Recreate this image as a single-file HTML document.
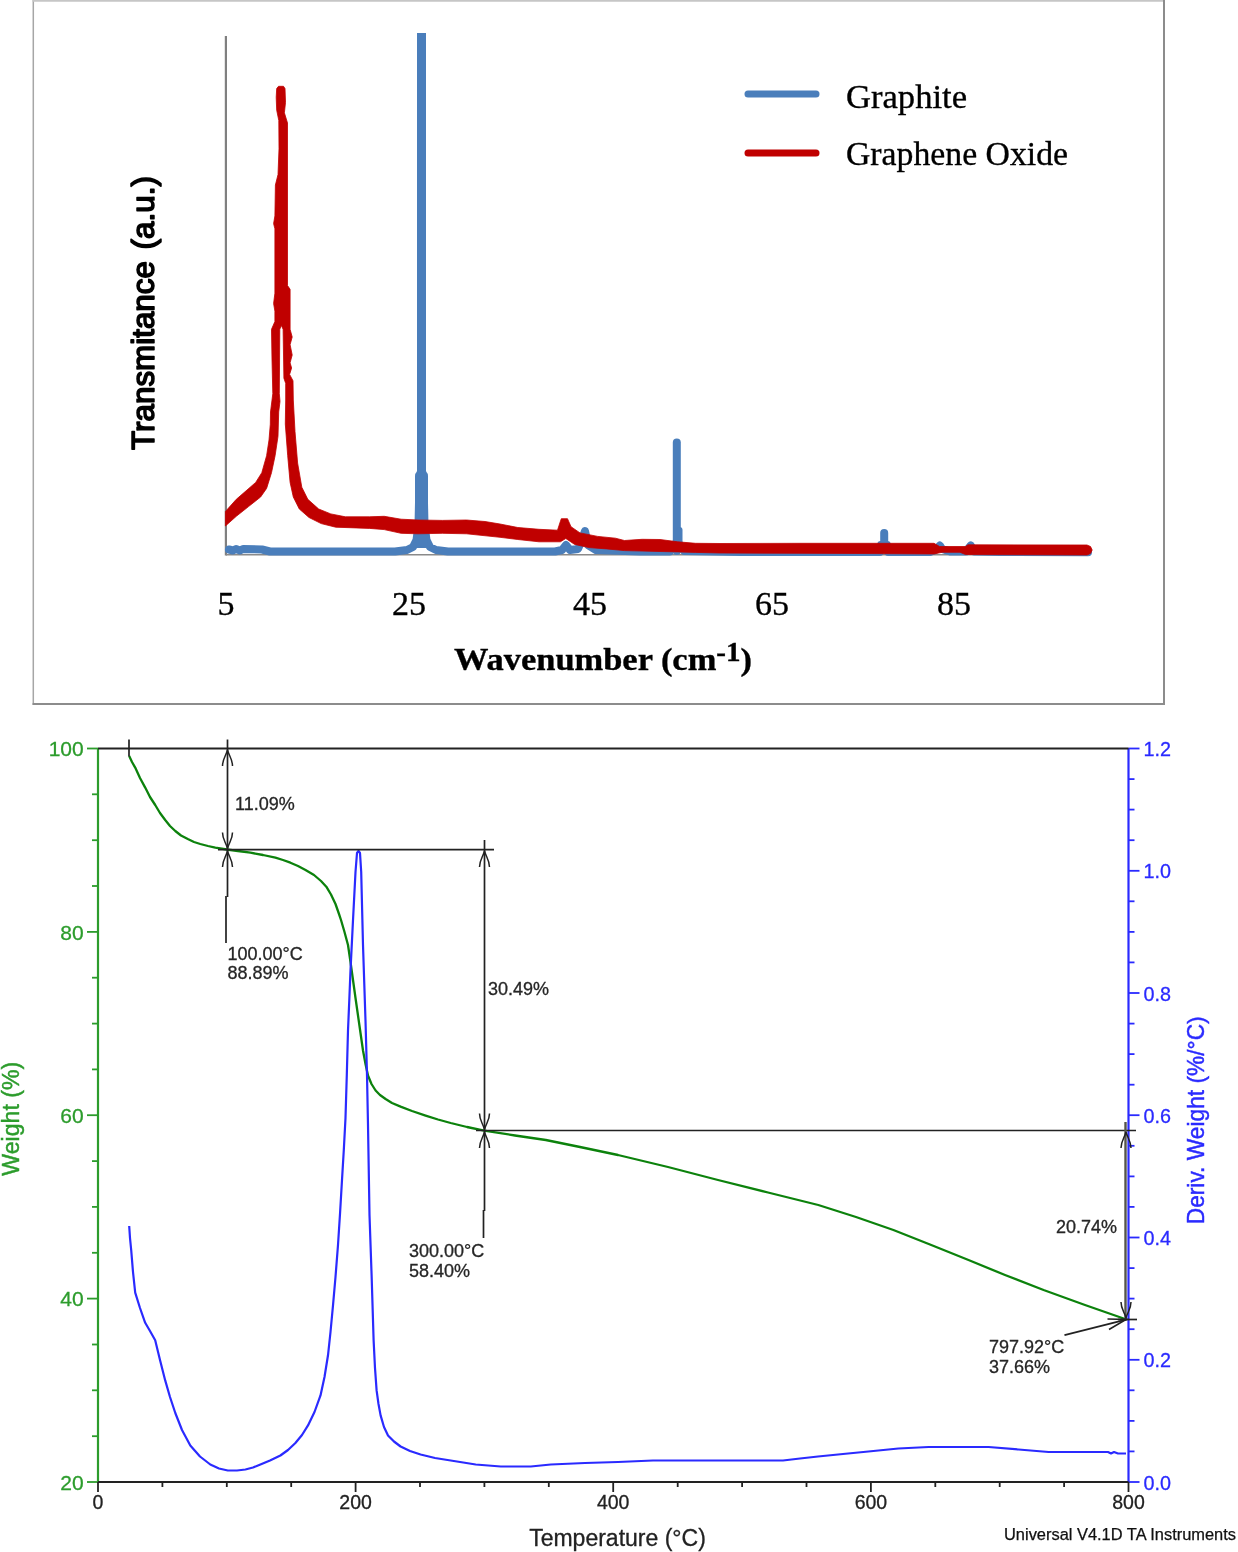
<!DOCTYPE html>
<html lang="en"><head><meta charset="utf-8"><title>XRD and TGA of graphene oxide</title>
<style>
html,body{margin:0;padding:0;background:#fff;}
body{width:1238px;height:1552px;overflow:hidden;}
svg{display:block;}
</style></head>
<body>
<svg width="1238" height="1552" viewBox="0 0 1238 1552">
<rect width="1238" height="1552" fill="#fff"/>
<g id="top">
<line x1="33.3" y1="0" x2="33.3" y2="704.9" stroke="#a6a6a6" stroke-width="1.5"/>
<line x1="32.6" y1="0.9" x2="1165" y2="0.9" stroke="#c6c6c6" stroke-width="1.8"/>
<line x1="1164" y1="0" x2="1164" y2="704.9" stroke="#8c8c8c" stroke-width="2"/>
<line x1="32.6" y1="703.9" x2="1165" y2="703.9" stroke="#8c8c8c" stroke-width="2"/>
<line x1="225.9" y1="36" x2="225.9" y2="555.6" stroke="#808080" stroke-width="2.2"/>
<line x1="226" y1="554.8" x2="1090" y2="554.8" stroke="#8a8a8a" stroke-width="1.6"/>
<g fill="none" stroke="#4a7ebb" stroke-linejoin="round" stroke-linecap="round">
  <polyline stroke-width="8" points="229,549.5 233,550.5 236,549 240,550.5 243,549 262,549.5 270,551.5 395,551.5 407,550 413,547 416.5,540 418.5,525 419.5,480"/>
  <polyline stroke-width="8" points="423.5,480 424.5,525 426.5,540 430,547 436,550 448,551.5 555,551.5 562,550 566,545 570,550 578,549 582,540 585,531 588,545 596,550 640,551.5 670,551.5 673,545"/>
  <polyline stroke-width="8" points="680,545 684,551 740,552 880,552 881,545"/>
  <polyline stroke-width="8" points="887,545 888,552 930,552 937,549 939.8,545.5 942,549 950,551.5 966,551.5 970.7,545.5 974,551.5 1000,552 1088,552.3"/>
  <line x1="421.5" y1="33" x2="421.5" y2="548" stroke-width="9" stroke-linecap="butt"/>
  <line x1="421.5" y1="476" x2="421.5" y2="540" stroke-width="13"/>
  <line x1="676.8" y1="442.5" x2="676.8" y2="551" stroke-width="8"/>
  <line x1="679.5" y1="530" x2="679.5" y2="545" stroke-width="6"/>
  <line x1="884.2" y1="533" x2="884.2" y2="548" stroke-width="8"/>
</g>
<polygon points="225.4,511.5 236.3,499.3 247.0,490.0 255.7,482.4 261.8,472.7 266.6,455.7 269.0,440.0 270.3,424.2 270.5,412.0 272.8,393.7 272.0,360.0 271.5,329.3 274.9,321.5 274.9,311.2 273.6,303.5 274.9,293.2 274.9,228.8 273.6,223.6 274.9,215.9 275.4,185.0 278.0,174.6 279.0,148.9 278.8,120.5 276.7,110.2 276.2,97.3 276.7,88.5 278.5,86.3 283.5,86.3 285.0,88.5 285.5,102.5 284.4,112.8 287.5,123.0 287.5,285.5 290.1,289.3 290.1,329.3 292.2,337.0 290.1,344.7 292.2,355.0 290.1,362.8 291.6,368.0 289.6,374.4 293.0,380.8 293.3,400.0 295.0,431.5 297.6,463.0 301.8,487.2 307.8,499.3 318.7,509.0 330.8,513.9 345.4,516.8 369.6,516.8 384.2,516.3 401.1,519.2 418.0,520.0 442.3,520.4 466.5,520.0 485.0,521.5 500.0,524.0 517.8,527.5 539.0,529.3 557.5,530.2 559.5,524.0 561.3,518.7 567.5,518.7 571.0,526.7 580.0,532.9 597.7,536.4 615.5,538.2 624.4,540.5 642.2,539.3 660.0,539.5 677.7,541.8 695.5,543.3 720.0,543.5 800.0,543.3 934.0,543.3 939.6,546.5 965.4,546.5 968.0,544.8 1087.0,545.0 1090.5,546.5 1092.2,550.0 1090.5,553.5 1087.0,555.0 965.4,554.5 960.0,552.3 942.0,552.3 934.0,554.0 860.0,553.5 800.0,553.3 720.0,553.0 695.5,552.4 677.7,551.9 660.0,551.5 624.4,550.6 606.6,548.9 588.9,547.6 574.6,544.4 565.8,538.5 560.4,541.8 539.0,541.8 517.8,539.5 500.0,537.3 466.5,533.8 442.3,533.3 418.0,533.8 401.1,533.3 384.2,529.6 369.6,528.4 335.7,527.2 321.2,523.6 309.0,517.5 299.3,509.0 293.3,497.0 290.1,482.4 287.7,455.7 285.3,424.0 285.7,400.0 285.7,383.4 283.9,378.2 283.1,329.3 281.3,325.4 279.8,329.3 279.3,393.7 280.0,401.4 278.7,412.0 278.0,436.3 275.1,455.7 271.5,472.7 266.6,488.4 260.6,497.0 248.5,506.6 236.3,516.3 225.4,526.0" fill="#c00000" stroke="#c00000" stroke-width="0.8" stroke-linejoin="round"/>
<g font-family="'Liberation Serif', serif" fill="#000" stroke="#000" stroke-width="0.35">
  <text x="226" y="615" font-size="34" text-anchor="middle">5</text>
  <text x="409" y="615" font-size="34" text-anchor="middle">25</text>
  <text x="590" y="615" font-size="34" text-anchor="middle">45</text>
  <text x="772" y="615" font-size="34" text-anchor="middle">65</text>
  <text x="954" y="615" font-size="34" text-anchor="middle">85</text>
  <text x="454" y="670" font-size="32" font-weight="bold" textLength="298" lengthAdjust="spacingAndGlyphs">Wavenumber (cm<tspan dy="-9" font-size="27">-1</tspan><tspan dy="9">)</tspan></text>
  <text x="846" y="107.5" font-size="34" textLength="121" lengthAdjust="spacingAndGlyphs">Graphite</text>
  <text x="846" y="164.5" font-size="34" textLength="222" lengthAdjust="spacingAndGlyphs">Graphene Oxide</text>
</g>
<line x1="748" y1="94" x2="816" y2="94" stroke="#4a7ebb" stroke-width="7" stroke-linecap="round"/>
<line x1="748" y1="153" x2="816" y2="153" stroke="#c00000" stroke-width="7" stroke-linecap="round"/>
<g font-family="'Liberation Sans', sans-serif" font-size="30.5" fill="#000" stroke="#000" stroke-width="1.5" stroke-linejoin="round">
<text transform="translate(154.3,450) rotate(-90)" textLength="189" lengthAdjust="spacingAndGlyphs">Transmitance</text>
<text transform="translate(154.3,249.5) rotate(-90)" textLength="73.5" lengthAdjust="spacingAndGlyphs">(a.u.)</text>
</g>
</g>
<g id="bottom"><line x1="98.0" y1="748.0" x2="98.0" y2="1482.5" stroke="#2c9c2c" stroke-width="2.2"/>
<line x1="1128.5" y1="748.0" x2="1128.5" y2="1482.5" stroke="#2a2aff" stroke-width="2.2"/>
<line x1="87.0" y1="1482.0" x2="98.0" y2="1482.0" stroke="#2c9c2c" stroke-width="1.8"/>
<line x1="92.0" y1="1436.2" x2="98.0" y2="1436.2" stroke="#2c9c2c" stroke-width="1.8"/>
<line x1="92.0" y1="1390.3" x2="98.0" y2="1390.3" stroke="#2c9c2c" stroke-width="1.8"/>
<line x1="92.0" y1="1344.5" x2="98.0" y2="1344.5" stroke="#2c9c2c" stroke-width="1.8"/>
<line x1="87.0" y1="1298.6" x2="98.0" y2="1298.6" stroke="#2c9c2c" stroke-width="1.8"/>
<line x1="92.0" y1="1252.8" x2="98.0" y2="1252.8" stroke="#2c9c2c" stroke-width="1.8"/>
<line x1="92.0" y1="1206.9" x2="98.0" y2="1206.9" stroke="#2c9c2c" stroke-width="1.8"/>
<line x1="92.0" y1="1161.1" x2="98.0" y2="1161.1" stroke="#2c9c2c" stroke-width="1.8"/>
<line x1="87.0" y1="1115.2" x2="98.0" y2="1115.2" stroke="#2c9c2c" stroke-width="1.8"/>
<line x1="92.0" y1="1069.4" x2="98.0" y2="1069.4" stroke="#2c9c2c" stroke-width="1.8"/>
<line x1="92.0" y1="1023.6" x2="98.0" y2="1023.6" stroke="#2c9c2c" stroke-width="1.8"/>
<line x1="92.0" y1="977.7" x2="98.0" y2="977.7" stroke="#2c9c2c" stroke-width="1.8"/>
<line x1="87.0" y1="931.9" x2="98.0" y2="931.9" stroke="#2c9c2c" stroke-width="1.8"/>
<line x1="92.0" y1="886.0" x2="98.0" y2="886.0" stroke="#2c9c2c" stroke-width="1.8"/>
<line x1="92.0" y1="840.2" x2="98.0" y2="840.2" stroke="#2c9c2c" stroke-width="1.8"/>
<line x1="92.0" y1="794.3" x2="98.0" y2="794.3" stroke="#2c9c2c" stroke-width="1.8"/>
<line x1="87.0" y1="748.5" x2="98.0" y2="748.5" stroke="#2c9c2c" stroke-width="1.8"/>
<line x1="1128.5" y1="1482.0" x2="1139.5" y2="1482.0" stroke="#2a2aff" stroke-width="1.8"/>
<line x1="1128.5" y1="1451.4" x2="1134.5" y2="1451.4" stroke="#2a2aff" stroke-width="1.8"/>
<line x1="1128.5" y1="1420.9" x2="1134.5" y2="1420.9" stroke="#2a2aff" stroke-width="1.8"/>
<line x1="1128.5" y1="1390.3" x2="1134.5" y2="1390.3" stroke="#2a2aff" stroke-width="1.8"/>
<line x1="1128.5" y1="1359.8" x2="1139.5" y2="1359.8" stroke="#2a2aff" stroke-width="1.8"/>
<line x1="1128.5" y1="1329.2" x2="1134.5" y2="1329.2" stroke="#2a2aff" stroke-width="1.8"/>
<line x1="1128.5" y1="1298.6" x2="1134.5" y2="1298.6" stroke="#2a2aff" stroke-width="1.8"/>
<line x1="1128.5" y1="1268.1" x2="1134.5" y2="1268.1" stroke="#2a2aff" stroke-width="1.8"/>
<line x1="1128.5" y1="1237.5" x2="1139.5" y2="1237.5" stroke="#2a2aff" stroke-width="1.8"/>
<line x1="1128.5" y1="1206.9" x2="1134.5" y2="1206.9" stroke="#2a2aff" stroke-width="1.8"/>
<line x1="1128.5" y1="1176.4" x2="1134.5" y2="1176.4" stroke="#2a2aff" stroke-width="1.8"/>
<line x1="1128.5" y1="1145.8" x2="1134.5" y2="1145.8" stroke="#2a2aff" stroke-width="1.8"/>
<line x1="1128.5" y1="1115.2" x2="1139.5" y2="1115.2" stroke="#2a2aff" stroke-width="1.8"/>
<line x1="1128.5" y1="1084.7" x2="1134.5" y2="1084.7" stroke="#2a2aff" stroke-width="1.8"/>
<line x1="1128.5" y1="1054.1" x2="1134.5" y2="1054.1" stroke="#2a2aff" stroke-width="1.8"/>
<line x1="1128.5" y1="1023.6" x2="1134.5" y2="1023.6" stroke="#2a2aff" stroke-width="1.8"/>
<line x1="1128.5" y1="993.0" x2="1139.5" y2="993.0" stroke="#2a2aff" stroke-width="1.8"/>
<line x1="1128.5" y1="962.4" x2="1134.5" y2="962.4" stroke="#2a2aff" stroke-width="1.8"/>
<line x1="1128.5" y1="931.9" x2="1134.5" y2="931.9" stroke="#2a2aff" stroke-width="1.8"/>
<line x1="1128.5" y1="901.3" x2="1134.5" y2="901.3" stroke="#2a2aff" stroke-width="1.8"/>
<line x1="1128.5" y1="870.8" x2="1139.5" y2="870.8" stroke="#2a2aff" stroke-width="1.8"/>
<line x1="1128.5" y1="840.2" x2="1134.5" y2="840.2" stroke="#2a2aff" stroke-width="1.8"/>
<line x1="1128.5" y1="809.6" x2="1134.5" y2="809.6" stroke="#2a2aff" stroke-width="1.8"/>
<line x1="1128.5" y1="779.1" x2="1134.5" y2="779.1" stroke="#2a2aff" stroke-width="1.8"/>
<line x1="1128.5" y1="748.5" x2="1139.5" y2="748.5" stroke="#2a2aff" stroke-width="1.8"/>
<line x1="98.0" y1="1482.0" x2="1128.5" y2="1482.0" stroke="#222" stroke-width="1.8"/>
<line x1="98.0" y1="1482.0" x2="98.0" y2="1492.0" stroke="#222" stroke-width="1.8"/>
<line x1="162.4" y1="1482.0" x2="162.4" y2="1487.0" stroke="#222" stroke-width="1.8"/>
<line x1="226.8" y1="1482.0" x2="226.8" y2="1487.0" stroke="#222" stroke-width="1.8"/>
<line x1="291.2" y1="1482.0" x2="291.2" y2="1487.0" stroke="#222" stroke-width="1.8"/>
<line x1="355.6" y1="1482.0" x2="355.6" y2="1492.0" stroke="#222" stroke-width="1.8"/>
<line x1="420.0" y1="1482.0" x2="420.0" y2="1487.0" stroke="#222" stroke-width="1.8"/>
<line x1="484.4" y1="1482.0" x2="484.4" y2="1487.0" stroke="#222" stroke-width="1.8"/>
<line x1="548.8" y1="1482.0" x2="548.8" y2="1487.0" stroke="#222" stroke-width="1.8"/>
<line x1="613.2" y1="1482.0" x2="613.2" y2="1492.0" stroke="#222" stroke-width="1.8"/>
<line x1="677.7" y1="1482.0" x2="677.7" y2="1487.0" stroke="#222" stroke-width="1.8"/>
<line x1="742.1" y1="1482.0" x2="742.1" y2="1487.0" stroke="#222" stroke-width="1.8"/>
<line x1="806.5" y1="1482.0" x2="806.5" y2="1487.0" stroke="#222" stroke-width="1.8"/>
<line x1="870.9" y1="1482.0" x2="870.9" y2="1492.0" stroke="#222" stroke-width="1.8"/>
<line x1="935.3" y1="1482.0" x2="935.3" y2="1487.0" stroke="#222" stroke-width="1.8"/>
<line x1="999.7" y1="1482.0" x2="999.7" y2="1487.0" stroke="#222" stroke-width="1.8"/>
<line x1="1064.1" y1="1482.0" x2="1064.1" y2="1487.0" stroke="#222" stroke-width="1.8"/>
<line x1="1128.5" y1="1482.0" x2="1128.5" y2="1492.0" stroke="#222" stroke-width="1.8"/>
<polyline fill="none" stroke="#0c820c" stroke-width="2.3" stroke-linejoin="round" points="129.2,756.0 132.0,762.0 135.2,767.6 140.0,778.0 145.2,787.6 150.0,797.0 155.2,805.0 160.0,813.0 165.2,820.0 170.0,826.0 175.3,831.0 181.0,835.5 187.8,839.0 194.0,842.0 200.3,844.0 208.0,846.0 215.3,847.7 226.8,849.5 238.0,851.0 250.4,852.7 263.0,855.0 275.4,857.7 283.0,860.0 290.4,862.7 298.0,866.0 305.5,870.0 314.0,875.0 321.0,881.0 326.3,886.7 331.0,894.5 335.5,904.0 339.0,914.0 341.0,920.0 344.5,932.0 348.0,945.0 350.5,962.0 353.0,980.0 355.5,998.0 358.0,1015.5 360.5,1033.0 363.0,1050.5 365.5,1064.0 368.0,1075.5 371.5,1084.0 375.6,1090.5 380.0,1095.0 385.6,1099.0 392.0,1103.0 400.6,1106.6 412.0,1111.0 425.6,1115.6 438.0,1119.5 450.7,1123.0 467.0,1127.0 484.2,1130.6 515.0,1135.5 545.8,1140.0 580.0,1147.0 618.0,1155.0 668.0,1167.0 718.0,1180.0 768.0,1192.5 818.3,1205.0 856.0,1217.0 893.4,1230.0 930.0,1244.5 968.5,1260.0 1005.0,1275.0 1043.6,1290.0 1085.0,1305.0 1126.5,1319.5"/>
<polyline fill="none" stroke="#2a2aff" stroke-width="2.2" stroke-linejoin="round" points="129.2,1226.0 130.0,1238.0 131.2,1250.0 133.0,1272.0 135.2,1292.7 140.0,1308.0 145.2,1322.8 150.0,1331.0 155.2,1340.3 160.0,1360.0 165.2,1380.4 170.0,1397.0 175.3,1413.0 182.0,1430.0 190.3,1445.5 200.0,1456.5 210.3,1464.5 219.0,1468.5 227.8,1470.5 237.0,1470.5 245.4,1469.5 253.0,1467.5 260.4,1464.5 270.0,1460.5 280.4,1455.5 288.0,1450.0 295.4,1443.0 302.0,1435.0 308.0,1425.4 314.5,1412.0 320.5,1395.4 324.5,1377.0 328.0,1355.3 330.5,1332.0 333.0,1305.3 335.5,1277.0 338.0,1245.0 340.0,1214.0 342.0,1180.0 343.8,1150.0 345.5,1118.0 346.8,1075.0 348.0,1030.5 349.3,1000.0 350.5,970.4 353.0,920.3 355.5,872.0 357.0,853.0 358.5,851.0 360.0,853.0 361.2,872.0 363.0,945.0 365.5,1020.5 367.0,1075.0 368.0,1125.0 369.5,1215.0 371.6,1275.0 373.6,1340.0 375.0,1368.0 376.6,1390.4 378.5,1404.0 380.6,1415.4 384.0,1427.0 388.0,1435.5 394.0,1441.5 400.6,1446.5 410.0,1451.0 420.6,1454.5 435.0,1458.0 450.7,1460.5 475.7,1464.5 500.8,1466.5 530.8,1466.5 550.8,1464.5 585.0,1463.0 618.0,1462.0 653.0,1460.5 783.0,1460.5 800.0,1458.5 818.0,1456.5 843.0,1454.0 868.4,1451.5 898.4,1448.5 928.5,1447.0 988.6,1447.0 1018.6,1449.5 1048.6,1452.0 1108.0,1452.0 1111.0,1453.5 1114.0,1452.0 1118.0,1453.5 1126.0,1453.5"/>
<g stroke="#222" stroke-linecap="butt"><line x1="98.0" y1="748.5" x2="1128.5" y2="748.5" stroke-width="1.9"/><line x1="129" y1="739.5" x2="129" y2="756.5" stroke-width="1.7"/><line x1="227.5" y1="739.5" x2="227.5" y2="897" stroke-width="1.7"/><line x1="226" y1="896" x2="226" y2="943" stroke-width="1.7"/><line x1="218" y1="849.7" x2="494" y2="849.7" stroke-width="1.7"/><line x1="484.5" y1="840" x2="484.5" y2="1211" stroke-width="1.7"/><line x1="483.5" y1="1210" x2="483.5" y2="1238" stroke-width="1.7"/><line x1="476" y1="1130.5" x2="1136" y2="1130.5" stroke-width="1.7"/><line x1="1125.5" y1="1122" x2="1125.5" y2="1320" stroke="#55554a" stroke-width="2.4"/><line x1="1118" y1="1319.5" x2="1137" y2="1319.5" stroke-width="1.7"/><line x1="1064.5" y1="1335.2" x2="1127" y2="1319.3" stroke-width="1.8"/><path d="M222.5,766 C222.5,759 226.0,756 227.5,750 C229.0,756 232.5,759 232.5,766" fill="none" stroke-width="1.5"/><path d="M222.5,832.5 C222.5,839.5 226.0,842.5 227.5,848.5 C229.0,842.5 232.5,839.5 232.5,832.5" fill="none" stroke-width="1.5"/><path d="M222.5,867 C222.5,860 226.0,857 227.5,851 C229.0,857 232.5,860 232.5,867" fill="none" stroke-width="1.5"/><path d="M479.5,867 C479.5,860 483.0,857 484.5,851 C486.0,857 489.5,860 489.5,867" fill="none" stroke-width="1.5"/><path d="M479.5,1113.5 C479.5,1120.5 483.0,1123.5 484.5,1129.5 C486.0,1123.5 489.5,1120.5 489.5,1113.5" fill="none" stroke-width="1.5"/><path d="M479.5,1148 C479.5,1141 483.0,1138 484.5,1132 C486.0,1138 489.5,1141 489.5,1148" fill="none" stroke-width="1.5"/><path d="M1121,1148 C1121,1141 1124.5,1138 1126,1132 C1127.5,1138 1131,1141 1131,1148" fill="none" stroke-width="1.5"/><path d="M1121,1302 C1121,1309 1124.5,1312 1126,1318 C1127.5,1312 1131,1309 1131,1302" fill="none" stroke-width="1.5"/><path d="M1107.5,1319 L1126,1319.5 L1109,1329.5" fill="none" stroke-width="1.6"/></g>
<g font-family="'Liberation Sans', sans-serif"><text x="83.7" y="1489.6" font-size="21" text-anchor="end" fill="#2c9c2c" stroke="#2c9c2c" stroke-width="0.3">20</text>
<text x="83.7" y="1306.2" font-size="21" text-anchor="end" fill="#2c9c2c" stroke="#2c9c2c" stroke-width="0.3">40</text>
<text x="83.7" y="1122.8" font-size="21" text-anchor="end" fill="#2c9c2c" stroke="#2c9c2c" stroke-width="0.3">60</text>
<text x="83.7" y="939.5" font-size="21" text-anchor="end" fill="#2c9c2c" stroke="#2c9c2c" stroke-width="0.3">80</text>
<text x="83.7" y="756.1" font-size="21" text-anchor="end" fill="#2c9c2c" stroke="#2c9c2c" stroke-width="0.3">100</text>
<text x="1143.5" y="1489.6" font-size="21" fill="#2a2aff" stroke="#2a2aff" stroke-width="0.3" textLength="27.5" lengthAdjust="spacingAndGlyphs">0.0</text>
<text x="1143.5" y="1367.3" font-size="21" fill="#2a2aff" stroke="#2a2aff" stroke-width="0.3" textLength="27.5" lengthAdjust="spacingAndGlyphs">0.2</text>
<text x="1143.5" y="1245.1" font-size="21" fill="#2a2aff" stroke="#2a2aff" stroke-width="0.3" textLength="27.5" lengthAdjust="spacingAndGlyphs">0.4</text>
<text x="1143.5" y="1122.8" font-size="21" fill="#2a2aff" stroke="#2a2aff" stroke-width="0.3" textLength="27.5" lengthAdjust="spacingAndGlyphs">0.6</text>
<text x="1143.5" y="1000.6" font-size="21" fill="#2a2aff" stroke="#2a2aff" stroke-width="0.3" textLength="27.5" lengthAdjust="spacingAndGlyphs">0.8</text>
<text x="1143.5" y="878.4" font-size="21" fill="#2a2aff" stroke="#2a2aff" stroke-width="0.3" textLength="27.5" lengthAdjust="spacingAndGlyphs">1.0</text>
<text x="1143.5" y="756.1" font-size="21" fill="#2a2aff" stroke="#2a2aff" stroke-width="0.3" textLength="27.5" lengthAdjust="spacingAndGlyphs">1.2</text>
<text x="98.0" y="1508.8" font-size="19.5" text-anchor="middle" fill="#222" stroke="#222" stroke-width="0.3">0</text>
<text x="355.6" y="1508.8" font-size="19.5" text-anchor="middle" fill="#222" stroke="#222" stroke-width="0.3">200</text>
<text x="613.2" y="1508.8" font-size="19.5" text-anchor="middle" fill="#222" stroke="#222" stroke-width="0.3">400</text>
<text x="870.9" y="1508.8" font-size="19.5" text-anchor="middle" fill="#222" stroke="#222" stroke-width="0.3">600</text>
<text x="1128.5" y="1508.8" font-size="19.5" text-anchor="middle" fill="#222" stroke="#222" stroke-width="0.3">800</text>
<text x="617.5" y="1545.7" font-size="23" text-anchor="middle" fill="#222" stroke="#222" stroke-width="0.3">Temperature (°C)</text>
<text x="1236" y="1539.5" font-size="15.6" text-anchor="end" fill="#111" stroke="#111" stroke-width="0.25" textLength="232" lengthAdjust="spacingAndGlyphs">Universal V4.1D TA Instruments</text>
<text transform="translate(19.2,1175.7) rotate(-90)" font-size="24.8" fill="#2c9c2c" stroke="#2c9c2c" stroke-width="0.45" textLength="114" lengthAdjust="spacingAndGlyphs">Weight (%)</text>
<text transform="translate(1204.3,1224.3) rotate(-90)" font-size="24.5" fill="#2a2aff" stroke="#2a2aff" stroke-width="0.45" textLength="208" lengthAdjust="spacingAndGlyphs">Deriv. Weight (%/°C)</text>
<text x="235" y="809.5" font-size="18" fill="#262626" stroke="#262626" stroke-width="0.3">11.09%</text>
<text x="227.5" y="960" font-size="18" fill="#262626" stroke="#262626" stroke-width="0.3">100.00°C</text>
<text x="227.5" y="979" font-size="18" fill="#262626" stroke="#262626" stroke-width="0.3">88.89%</text>
<text x="488" y="994.5" font-size="18" fill="#262626" stroke="#262626" stroke-width="0.3">30.49%</text>
<text x="409" y="1256.5" font-size="18" fill="#262626" stroke="#262626" stroke-width="0.3">300.00°C</text>
<text x="409" y="1276.5" font-size="18" fill="#262626" stroke="#262626" stroke-width="0.3">58.40%</text>
<text x="1056" y="1233" font-size="18" fill="#262626" stroke="#262626" stroke-width="0.3">20.74%</text>
<text x="989" y="1353" font-size="18" fill="#262626" stroke="#262626" stroke-width="0.3">797.92°C</text>
<text x="989" y="1372.5" font-size="18" fill="#262626" stroke="#262626" stroke-width="0.3">37.66%</text></g></g>
</svg>
</body></html>
